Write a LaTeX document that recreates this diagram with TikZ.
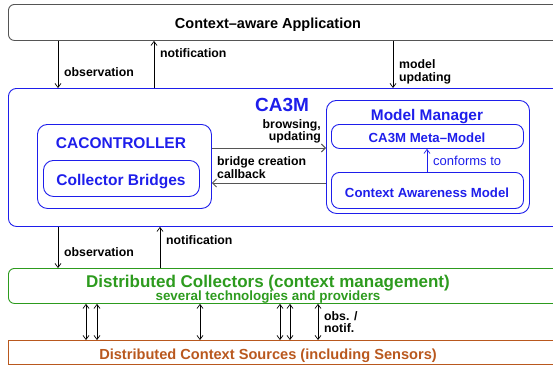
\documentclass[tikz,border=0pt]{standalone}
\usepackage{fontspec}
\setmainfont{Liberation Sans}
\usetikzlibrary{arrows.meta}
\definecolor{cblue}{RGB}{30,30,235}
\definecolor{cgreen}{RGB}{45,155,30}
\definecolor{cbrown}{RGB}{185,88,30}
\definecolor{cgray}{RGB}{85,85,85}
\begin{document}
\begin{tikzpicture}[x=1pt,y=-1pt,
  box/.style={draw,line width=0.9pt,inner sep=0pt,anchor=north west},
  ttl/.style={text depth=0pt,yshift=-1.5pt},
  lbl/.style={font=\bfseries\fontsize{12.3}{12.5}\selectfont,align=left,inner sep=0pt},
  arr/.style={line width=0.7pt,-{Straight Barb[length=4pt,width=6pt]}},
  darr/.style={line width=0.7pt,{Straight Barb[length=4pt,width=6pt]}-{Straight Barb[length=4pt,width=6pt]}},
  harr/.style={draw=cgray,line width=0.9pt,-{Straight Barb[length=4pt,width=8pt]}}]
\clip (0,0) rectangle (553,367);
% boxes
\node[box,draw=cgray,rounded corners=6pt,minimum width=600pt,minimum height=36pt] (app) at (8,4) {};
\node[ttl,font=\bfseries\fontsize{14.5}{16}\selectfont] (apptxt) at (268,22) {Context–aware Application};
\node[box,draw=cblue,rounded corners=8pt,minimum width=600pt,minimum height=138pt] (ca3m) at (8,88) {};
\node[ttl,font=\bfseries\fontsize{19}{21}\selectfont,text=cblue] (ca3mtxt) at (282,103) {CA3M};
\node[box,draw=cblue,rounded corners=10pt,minimum width=174pt,minimum height=84pt] (ctrl) at (37,124) {};
\node[ttl,font=\bfseries\fontsize{15.5}{17}\selectfont,text=cblue] (ctrltxt) at (121,142) {CACONTROLLER};
\node[box,draw=cblue,rounded corners=10pt,minimum width=156pt,minimum height=36pt] (bridges) at (43,160) {};
\node[ttl,font=\bfseries\fontsize{15.5}{17}\selectfont,text=cblue] (bridgestxt) at (121,178) {Collector Bridges};
\node[box,draw=cblue,rounded corners=10pt,minimum width=203pt,minimum height=113pt] (mm) at (326,100) {};
\node[ttl,font=\bfseries\fontsize{15.4}{17}\selectfont,text=cblue] (mmtxt) at (427,113) {Model Manager};
\node[box,draw=cblue,rounded corners=8pt,minimum width=192pt,minimum height=24pt] (meta) at (331,124) {};
\node[ttl,font=\bfseries\fontsize{13.2}{15}\selectfont,text=cblue] (metatxt) at (427,136.5) {CA3M Meta–Model};
\node[box,draw=cblue,rounded corners=8pt,minimum width=192pt,minimum height=36pt] (cam) at (331,172) {};
\node[ttl,font=\bfseries\fontsize{13.2}{15}\selectfont,text=cblue] (camtxt) at (427,191) {Context Awareness Model};
\node[box,draw=cgreen,rounded corners=6pt,minimum width=600pt,minimum height=35pt] (coll) at (8,268) {};
\node[ttl,font=\bfseries\fontsize{17}{19}\selectfont,text=cgreen] (colltxt) at (268,280) {Distributed Collectors (context management)};
\node[ttl,font=\bfseries\fontsize{13.4}{15}\selectfont,text=cgreen] (colltxt2) at (268,294) {several technologies and providers};
\node[box,draw=cbrown,minimum width=600pt,minimum height=24pt] (src) at (8,340) {};
\node[ttl,font=\bfseries\fontsize{14.6}{16}\selectfont,text=cbrown] (srctxt) at (268,352.5) {Distributed Context Sources (including Sensors)};
% app <-> ca3m
\draw[arr] (app.south -| 58,0) -- (ca3m.north -| 58,0);
\node[lbl,anchor=west] (l1) at (64,72) {observation};
\draw[arr] (ca3m.north -| 154,0) -- (app.south -| 154,0);
\node[lbl,anchor=west] (l2) at (160,53) {notification};
\draw[arr] (app.south -| 393,0) -- (ca3m.north -| 393,0);
\node[lbl,anchor=west] (l3) at (399,72) {model\\updating};
% inner
\draw[harr] (ctrl.east |- 0,148) -- (mm.west |- 0,148);
\node[lbl,anchor=east,align=right,font=\bfseries\fontsize{12.3}{12}\selectfont] (l4) at (321,131) {browsing,\\updating};
\draw[harr] (mm.west |- 0,183) -- (ctrl.east |- 0,183);
\node[lbl,anchor=west,font=\bfseries\fontsize{12.3}{11.5}\selectfont] (l5) at (217,167.5) {bridge creation\\callback};
\draw[line width=0.7pt,draw=cblue,-{Straight Barb[length=4pt,width=6pt]}] (cam.north -| 427,0) -- (meta.south -| 427,0);
\node[font=\fontsize{13}{15}\selectfont,text=cblue,anchor=west,inner sep=0pt] (l6) at (433,161) {conforms to};
% ca3m <-> collectors
\draw[arr] (ca3m.south -| 58,0) -- (coll.north -| 58,0);
\node[lbl,anchor=west] (l7) at (64,252) {observation};
\draw[arr] (coll.north -| 160,0) -- (ca3m.south -| 160,0);
\node[lbl,anchor=west] (l8) at (166,240) {notification};
% collectors <-> sources
\foreach \xx in {86,97,200,280,290,318} {
  \draw[darr] (coll.south -| \xx,0) -- (src.north -| \xx,0);
}
\node[lbl,anchor=west] (l9) at (324,322) {obs. /\\notif.};
\end{tikzpicture}
\end{document}
